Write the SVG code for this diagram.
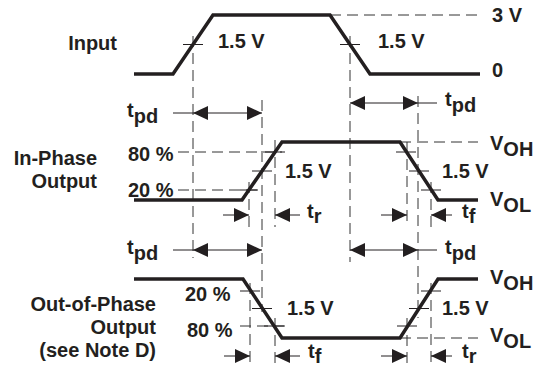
<svg xmlns="http://www.w3.org/2000/svg" width="534" height="369" viewBox="0 0 534 369">
<style>
text{font-family:"Liberation Sans",Arial,sans-serif;font-weight:bold;font-size:20px;fill:#231f20}
.w{fill:none;stroke:#231f20;stroke-width:3.5;stroke-linejoin:miter}
.d{fill:none;stroke:#333;stroke-width:1;stroke-dasharray:11,6}
.s{fill:none;stroke:#231f20;stroke-width:1}
.a{fill:none;stroke:#231f20;stroke-width:1;marker-end:url(#ah)}
.aa{fill:none;stroke:#231f20;stroke-width:1;marker-start:url(#ah);marker-end:url(#ah)}
.e{text-anchor:end}
</style>
<defs>
<marker id="ah" markerUnits="userSpaceOnUse" markerWidth="15" markerHeight="14" refX="15" refY="7" orient="auto-start-reverse">
<path d="M0,0 L15,7 L0,14 z" fill="#231f20"/>
</marker>
</defs>
<g id="connectors">
<path class="d" d="M193,36 V258"/>
<path class="d" d="M350,36 V262"/>
<path class="d" d="M262,100 V312"/>
<path class="d" d="M418,96 V318"/>
<path class="d" d="M249,182 V227"/>
<path class="d" d="M275,140 V227"/>
<path class="d" d="M407,142 V227"/>
<path class="d" d="M431,182 V227"/>
<path class="d" d="M250,283 V366"/>
<path class="d" d="M275,318 V366"/>
<path class="d" d="M407,318 V366"/>
<path class="d" d="M431,283 V366"/>
<path class="d" d="M330,15 H480"/>
<path class="d" d="M178,152 H282"/>
<path class="d" d="M178,190 H258"/>
<path class="d" d="M400,142 H478"/>
<path class="d" d="M240,326 H285"/>
<path class="d" d="M400,338 H478"/>
<path class="s" d="M183,44.5 H203 M340,44.5 H360 M252,171 H272 M265,152 H285 M240,190 H258 M396,152 H416 M409,171 H429 M421,190 H441 M240,291 H260 M252,308.5 H272 M264,326 H284 M397,326 H417 M409,308.5 H429 M421,291 H441"/>
<path class="s" d="M173,113 H193"/>
<path class="aa" d="M193,113 H262"/>
<path class="aa" d="M350,103 H418"/>
<path class="s" d="M418,103 H437"/>
<path class="s" d="M173,250 H193"/>
<path class="aa" d="M193,250 H262"/>
<path class="aa" d="M350,250 H418"/>
<path class="s" d="M418,250 H437"/>
<path class="a" d="M223,215 H249"/>
<path class="a" d="M300,215 H275"/>
<path class="a" d="M381,215 H407"/>
<path class="a" d="M452,215 H431"/>
<path class="a" d="M224,356 H250"/>
<path class="a" d="M300,356 H275"/>
<path class="a" d="M381,356 H407"/>
<path class="a" d="M452,356 H431"/>
</g>
<g id="input">
<polyline class="w" points="134,74 173,74 213,15 330,15 370,74 480,74"/>
<text class="e" x="117" y="50">Input</text>
<text x="218" y="48">1.5 V</text>
<text x="378" y="48">1.5 V</text>
<text x="492" y="22">3 V</text>
<text x="492" y="77">0</text>
</g>
<g id="in-phase">
<polyline class="w" points="134,200 242,200 282,142 400,142 438,200 478,200"/>
<text class="e" x="97" y="165">In-Phase</text>
<text class="e" x="97" y="188">Output</text>
<text x="128" y="161">80 %</text>
<text x="128" y="197">20 %</text>
<text x="285" y="178">1.5 V</text>
<text x="442" y="178">1.5 V</text>
<text x="490" y="150">V<tspan dy="6">OH</tspan></text>
<text x="490" y="206">V<tspan dy="6">OL</tspan></text>
<text x="307" y="218">t<tspan dy="5">r</tspan></text>
<text x="462" y="218">t<tspan dy="5">f</tspan></text>
</g>
<g id="out-of-phase">
<polyline class="w" points="134,279 243,279 282,338 400,338 438,279 478,279"/>
<text class="e" x="156" y="311">Out-of-Phase</text>
<text class="e" x="156" y="334">Output</text>
<text class="e" x="156" y="357">(see Note D)</text>
<text x="185" y="301">20 %</text>
<text x="187" y="337">80 %</text>
<text x="287" y="315">1.5 V</text>
<text x="442" y="315">1.5 V</text>
<text x="490" y="284">V<tspan dy="6">OH</tspan></text>
<text x="490" y="342">V<tspan dy="6">OL</tspan></text>
<text x="308" y="358">t<tspan dy="5">f</tspan></text>
<text x="462" y="358">t<tspan dy="5">r</tspan></text>
</g>
<g id="tpd-labels">
<text x="127" y="117">t<tspan dy="6">pd</tspan></text>
<text x="445" y="106">t<tspan dy="6">pd</tspan></text>
<text x="127" y="254">t<tspan dy="6">pd</tspan></text>
<text x="445" y="254">t<tspan dy="6">pd</tspan></text>
</g>
</svg>
